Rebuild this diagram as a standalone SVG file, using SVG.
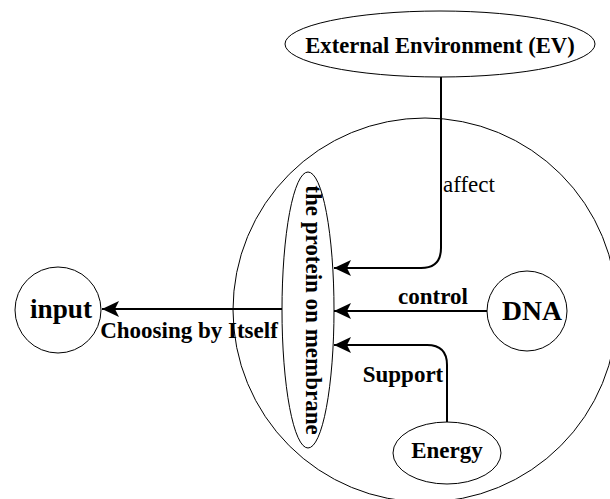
<svg xmlns="http://www.w3.org/2000/svg" width="610" height="499" viewBox="0 0 610 499">
<style>
.n{fill:#fff;stroke:#000;stroke-width:1}
.t{font-family:"Liberation Serif",serif;font-weight:bold;fill:#000;font-size:23px}
.c{fill:none;stroke:#000;stroke-width:2}
</style>
<defs>
<marker id="a" markerWidth="17" markerHeight="16" refX="17" refY="8" orient="auto" markerUnits="userSpaceOnUse" viewBox="0 0 17 16">
<path d="M0,0 L17,8 L0,16 L4,8 Z" fill="#000"/>
</marker>
</defs>
<rect width="610" height="499" fill="#fff"/>
<g id="cell"><circle class="n" cx="425" cy="310" r="192"/></g>
<g id="ev"><ellipse class="n" cx="440" cy="44" rx="155" ry="33"/><text class="t" x="440" y="53" style="font-size:22.6px" text-anchor="middle">External Environment (EV)</text></g>
<g id="protein"><ellipse class="n" cx="308" cy="310" rx="26" ry="138"/><text class="t" transform="translate(306,310) rotate(90)" x="0" y="0" text-anchor="middle">the protein on membrane</text></g>
<g id="dna"><circle class="n" cx="527" cy="311" r="40"/><text class="t" x="532" y="320" style="font-size:27.7px" text-anchor="middle">DNA</text></g>
<g id="energy"><ellipse class="n" cx="447" cy="453" rx="54" ry="31"/><text class="t" x="447" y="458" text-anchor="middle">Energy</text></g>
<g id="input"><circle class="n" cx="58" cy="310" r="43"/><text class="t" x="61" y="318" style="font-size:27.2px" text-anchor="middle">input</text></g>
<g id="connectors">
<path class="c" d="M441,77 L441,248 Q441,268 421,268 L334,268" marker-end="url(#a)"/>
<path class="c" d="M487,311 L334,311" marker-end="url(#a)"/>
<path class="c" d="M447,422 L447,365 Q447,345 427,345 L334,345" marker-end="url(#a)"/>
<path class="c" d="M282,309 L102,309" marker-end="url(#a)"/>
<text x="443" y="192" font-family="Liberation Serif,serif" font-size="23">affect</text>
<text class="t" x="433" y="304" text-anchor="middle">control</text>
<text class="t" x="403" y="382" text-anchor="middle">Support</text>
<text class="t" x="189" y="338" text-anchor="middle">Choosing by Itself</text>
</g>
</svg>
